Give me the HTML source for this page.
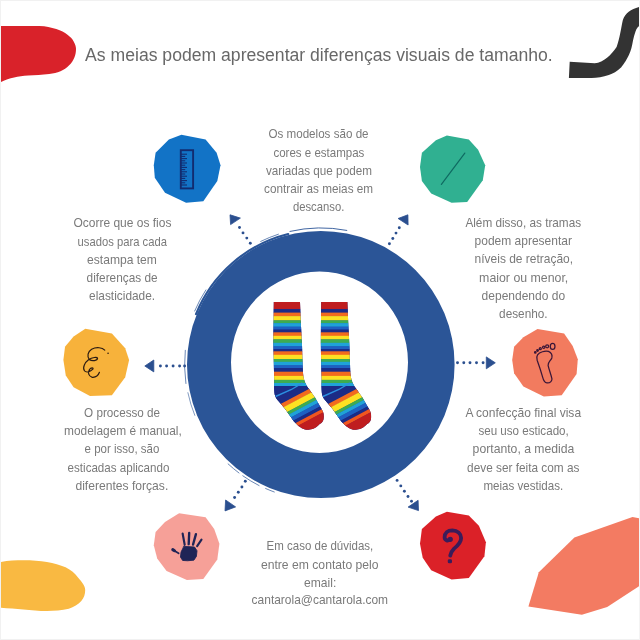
<!DOCTYPE html>
<html lang="pt"><head><meta charset="utf-8"><title>As meias podem apresentar diferenças visuais de tamanho</title>
<style>
html,body{margin:0;padding:0;background:#fff;}
body{width:640px;height:640px;overflow:hidden;position:relative;}
svg{position:absolute;left:0;top:0;display:block;will-change:transform;}
text{font-family:"Liberation Sans",sans-serif;fill:#7a7a7a;}
.t{font-size:17.5px;fill:#686868;}
.b{font-size:11.9px;}
</style></head><body>
<svg width="640" height="640" viewBox="0 0 640 640">
<rect width="640" height="640" fill="#fff"/>
<rect x="0" y="0" width="640" height="1" fill="#f1f1f1"/>
<rect x="0" y="0" width="1" height="640" fill="#f1f1f1"/>
<rect x="0" y="639" width="640" height="1" fill="#f1f1f1"/>
<rect x="639" y="0" width="1" height="640" fill="#f4f4f4"/>

<path d="M1,26 L39.4,26 C46,26.3 51,27.3 56.3,29.1 C61,30.8 64.5,32.5 67.5,34.7 C70.5,37 72.5,39 73.8,41.7 C75.3,44.5 76,46.5 76,48.8 C76,52 75.5,54.5 74.5,57.2 C73.2,60.5 71.5,63 68.9,65.6 C66.5,68 64,69.8 60.5,71.3 C57,72.8 53.5,73.6 49.2,74.1 C42,75 35,75.2 28.1,75.5 C23,75.8 18.5,76.5 14.1,77.6 C9.5,78.7 5.5,80 1,82 Z" fill="#d9222a"/>
<path d="M569.7,61.7 L594.7,63.3 C604,62 611,55 616.6,46.9 C620,38 621,28 622.8,20.3 C625,13 631,9 639,6.9 L639,26.3 C636,28 635,33 633,40.6 C632,46 631,51 629,54.7 C626,61 623,65 621.3,67.2 C617,71.5 613,73.5 608.8,75 C603,77 597,78 591.6,78.1 L568.9,78.1 Z" fill="#333"/>
<path d="M1,562 C8,560.6 16,560.3 23.4,560.3 C32,560.3 40,560.8 46.9,561.9 C54,563 60,564.8 65.6,567.3 C71,570 75,573.5 78,577.5 C82,582 85.2,586 85.2,590 C85.2,594 84,598 81.3,601 C78,604.5 74,607 68.8,608.8 C62,610.5 54,611 46.9,611 C39,611 31,610.3 23.4,609.5 C16,608.8 8,608.3 1,607.8 Z" fill="#f9b942"/>
<polygon points="632.5,516.9 639,518.3 639,586.3 607.2,606.9 581.9,614.8 528.4,606.5 538.8,572.2 574.4,537.5" fill="#f37b62"/>
<path fill="#2b5597" fill-rule="evenodd" d="M187,364.5 a133.8,133.6 0 1,0 267.6,0 a133.8,133.6 0 1,0 -267.6,0 Z M231,362.2 a88.5,90.7 0 1,1 177,0 a88.5,90.7 0 1,1 -177,0 Z"/>
<g fill="none" stroke="#2b5597" stroke-linecap="round">
<path d="M290.0,231.4 A136.6,136.6 0 0,1 346.8,230.4" stroke-width="0.9"/>
<path d="M196.0,314.1 A134.5,134.5 0 0,1 288.2,234.0" stroke-width="2.2"/>
<path d="M260.7,241.4 A137.0,137.0 0 0,1 278.4,234.2" stroke-width="0.7"/>
<path d="M194.7,311.0 A136.9,136.9 0 0,1 205.9,289.9" stroke-width="0.7"/>
<path d="M185.9,383.5 A136.2,136.2 0 0,1 185.3,350.3" stroke-width="0.7"/>
<path d="M194.8,415.4 A135.8,135.8 0 0,1 187.9,392.7" stroke-width="0.6"/>
<path d="M239.0,473.0 A135.9,135.9 0 0,1 228.1,463.9" stroke-width="0.7"/>
<path d="M259.1,485.6 A135.9,135.9 0 0,1 242.8,475.8" stroke-width="0.7"/>
<path d="M274.3,492.0 A135.7,135.7 0 0,1 265.6,488.5" stroke-width="0.7"/>
</g>
<g fill="#2b4f8f">
<polygon points="230,214.8 240.4,218.1 230.6,224.6" stroke="#2b4f8f" stroke-width="0.8" stroke-linejoin="round"/>
<circle cx="239.5" cy="227.5" r="1.45"/>
<circle cx="243" cy="232.9" r="1.45"/>
<circle cx="246.8" cy="238.1" r="1.45"/>
<circle cx="250.3" cy="243.3" r="1.45"/>
<polygon points="407.9,214.8 398.1,218.5 408.1,225" stroke="#2b4f8f" stroke-width="0.8" stroke-linejoin="round"/>
<circle cx="399.3" cy="227.8" r="1.45"/>
<circle cx="396" cy="233.1" r="1.45"/>
<circle cx="392.8" cy="238.5" r="1.45"/>
<circle cx="389.4" cy="243.8" r="1.45"/>
<polygon points="144.8,366 153.8,360 153.8,371.9" stroke="#2b4f8f" stroke-width="0.8" stroke-linejoin="round"/>
<circle cx="160.4" cy="366" r="1.45"/>
<circle cx="166.6" cy="366" r="1.45"/>
<circle cx="173.1" cy="366" r="1.45"/>
<circle cx="179.6" cy="366" r="1.45"/>
<circle cx="184.6" cy="366" r="1.45"/>
<polygon points="495.3,362.8 486.3,356.9 486.3,368.8" stroke="#2b4f8f" stroke-width="0.8" stroke-linejoin="round"/>
<circle cx="457.5" cy="362.8" r="1.45"/>
<circle cx="463.8" cy="362.8" r="1.45"/>
<circle cx="470" cy="362.8" r="1.45"/>
<circle cx="476.5" cy="362.8" r="1.45"/>
<circle cx="483.1" cy="362.8" r="1.45"/>
<polygon points="225,510.9 225.6,500 235.6,506.9" stroke="#2b4f8f" stroke-width="0.8" stroke-linejoin="round"/>
<circle cx="234.6" cy="497.5" r="1.45"/>
<circle cx="238.3" cy="492.3" r="1.45"/>
<circle cx="241.9" cy="487" r="1.45"/>
<circle cx="245.3" cy="481.3" r="1.45"/>
<polygon points="418.5,510.6 408.1,507.1 418.1,500.3" stroke="#2b4f8f" stroke-width="0.8" stroke-linejoin="round"/>
<circle cx="397.1" cy="480.4" r="1.45"/>
<circle cx="400.8" cy="485.9" r="1.45"/>
<circle cx="404.4" cy="491.3" r="1.45"/>
<circle cx="408" cy="496.5" r="1.45"/>
<circle cx="411.5" cy="501.3" r="1.45"/>
</g>
<polygon points="181.4,134.8 205.6,139.5 216.6,152.8 220.5,165.3 217.3,180.9 203.3,201.2 186.1,202.8 165.0,192.7 154.8,177.8 153.8,165.3 155.6,152.8 168.9,139.5" fill="#1273c6"/>
<polygon points="446.9,135.6 468.8,139.5 478.1,149.7 485.2,165.3 482.8,180.2 467.2,202.0 451.6,202.8 431.2,193.4 421.9,180.9 420.0,166.9 421.9,152.8 435.9,140.3" fill="#30b091"/>
<polygon points="85.3,328.8 111.9,333.4 125.2,348.3 129.1,360.0 125.2,377.2 111.9,395.2 90.0,395.9 73.6,387.3 65.8,375.6 63.4,360.0 65.0,346.7 73.6,336.6" fill="#f7b23b"/>
<polygon points="179.1,513.3 205.6,517.2 214.2,528.9 219.4,543.8 217.3,559.4 203.3,578.9 186.9,580.0 166.6,571.1 157.2,558.6 153.8,545.3 155.6,532.0 165.0,521.9" fill="#f6a098"/>
<polygon points="537.5,329.1 564.1,333.4 572.7,345.9 577.8,359.2 576.6,374.1 561.7,395.2 543.8,396.4 523.4,386.6 514.1,373.3 512.2,360.0 514.1,346.7 523.4,337.3" fill="#f27b5f"/>
<polygon points="446.9,511.7 468.8,515.6 478.9,525.8 485.9,542.2 484.4,556.2 468.8,578.1 451.6,579.4 431.2,570.3 422.7,557.8 420.0,543.8 421.9,528.9 435.9,516.4" fill="#db2128"/>
<g stroke="#122c70" fill="none">
<rect x="180.8" y="150.2" width="12.3" height="38.2" stroke-width="1.9"/>
<path d="M181,154.2 h6" stroke-width="1.1"/>
<path d="M181,156.4 h4.2" stroke-width="1.1"/>
<path d="M181,158.6 h6" stroke-width="1.1"/>
<path d="M181,160.8 h4.2" stroke-width="1.1"/>
<path d="M181,163.0 h6" stroke-width="1.1"/>
<path d="M181,165.2 h4.2" stroke-width="1.1"/>
<path d="M181,167.4 h6" stroke-width="1.1"/>
<path d="M181,169.6 h4.2" stroke-width="1.1"/>
<path d="M181,171.8 h6" stroke-width="1.1"/>
<path d="M181,174.0 h4.2" stroke-width="1.1"/>
<path d="M181,176.2 h6" stroke-width="1.1"/>
<path d="M181,178.4 h4.2" stroke-width="1.1"/>
<path d="M181,180.6 h6" stroke-width="1.1"/>
<path d="M181,182.8 h4.2" stroke-width="1.1"/>
<path d="M181,185.0 h6" stroke-width="1.1"/>
</g>
<path d="M464.8,153.1 L441.4,184.4" stroke="#0f6a62" stroke-width="1.2" stroke-linecap="round" fill="none"/>
<g transform="translate(76,342) scale(0.0625)"><path d="M460,130 C420,90 330,75 250,115 C190,150 170,230 215,285 C260,310 340,300 345,262 C340,235 260,245 200,285 C140,330 100,410 135,460 C160,495 230,480 270,435 C285,405 240,405 215,440 C185,490 200,545 260,565 C320,570 360,525 375,485" fill="none" stroke="#2a1a12" stroke-width="19" stroke-linecap="round"/><circle cx="513" cy="180" r="13" fill="#2a1a12"/></g>
<g transform="translate(167,527) scale(0.0625)" fill="#1f2456" stroke="#1f2456" stroke-linecap="round">
<polygon points="270,310 440,320 480,380 470,470 430,530 330,540 250,535 215,480 225,400 255,340" stroke-width="14" stroke-linejoin="round"/>
<path d="M283,285 L250,105" stroke-width="34" fill="none"/>
<path d="M347,275 L355,95" stroke-width="38" fill="none"/>
<path d="M417,280 L463,115" stroke-width="38" fill="none"/>
<path d="M482,305 L552,203" stroke-width="34" fill="none"/>
<path d="M185,420 L125,385" stroke-width="30" fill="none"/>
<path d="M120,380 L92,362" stroke-width="48" fill="none"/>
</g>
<g transform="translate(527,338) scale(0.078125)" fill="none" stroke="#3a1638" stroke-width="16" stroke-linejoin="round">
<path d="M135,215 C160,180 230,160 275,172 C315,190 325,225 318,255 C300,295 265,315 270,350 C280,400 305,460 320,525 C315,560 290,578 255,575 C225,570 210,540 200,500 C180,430 150,340 130,285 C120,255 122,235 135,215 Z"/>
<ellipse cx="328" cy="108" rx="30" ry="38"/>
<circle cx="258" cy="106" r="19"/>
<circle cx="214" cy="118" r="15" stroke-width="16"/>
<circle cx="170" cy="137" r="13" stroke-width="16"/>
<circle cx="135" cy="160" r="10" stroke-width="17"/>
<circle cx="106" cy="184" r="9" stroke-width="17"/>
</g>
<g transform="translate(433,524) scale(0.07031)" fill="none" stroke="#3b1c5a" stroke-linecap="round" stroke-linejoin="round">
<path d="M245,215 C215,250 165,235 165,190 C165,130 210,90 275,90 C350,92 400,140 400,200 C400,260 350,310 300,350 C265,385 250,415 245,450" stroke-width="54"/>
<circle cx="245" cy="218" r="26" fill="#3b1c5a" stroke-width="24"/>
<rect x="222" y="512" width="36" height="36" rx="8" fill="#3b1c5a" stroke-width="24"/>
</g>
<defs>
<clipPath id="sk"><path d="M273.8,302 L300,302 L300.8,322 L302,345 L302.8,370 C303.2,378 304.5,383 308.8,388.8 L315,397.5 L320,406.3 C322.5,410 324,413 323.8,416.5 C323.8,421 322,423 320,423.8 C317,427 315,428.3 312.5,428.9 C309,429.8 307,429.8 305,429.4 C302,428.5 300.5,427.5 298.8,426.3 L293.8,421.3 L285,408.8 L277.5,400 C275.5,397.5 274.6,395 274.4,392.5 C274,388 274,385 274.2,380 L273.3,342 Z"/></clipPath>
</defs>
<g clip-path="url(#sk)">
<rect x="270" y="300" width="60" height="135" fill="#1c2b86"/>
<rect x="270" y="302.0" width="40" height="7.4" fill="#bf1d1f"/>
<rect x="270" y="309.1" width="40" height="3.8" fill="#1c2b86"/>
<rect x="270" y="312.6" width="40" height="3.8" fill="#f26a1e"/>
<rect x="270" y="316.1" width="40" height="4.5" fill="#fde122"/>
<rect x="270" y="320.3" width="40" height="3.1" fill="#3dab52"/>
<rect x="270" y="323.1" width="40" height="3.8" fill="#1fa2d8"/>
<rect x="270" y="326.6" width="40" height="3.2" fill="#1e60c2"/>
<rect x="270" y="329.5" width="40" height="3.1" fill="#1c2b86"/>
<rect x="270" y="332.3" width="40" height="3.8" fill="#f26a1e"/>
<rect x="270" y="335.8" width="40" height="3.8" fill="#fde122"/>
<rect x="270" y="339.3" width="40" height="3.8" fill="#3dab52"/>
<rect x="270" y="342.8" width="40" height="3.8" fill="#1fa2d8"/>
<rect x="270" y="346.3" width="40" height="3.1" fill="#1e60c2"/>
<rect x="270" y="349.1" width="40" height="2.5" fill="#1c2b86"/>
<rect x="270" y="351.3" width="40" height="3.8" fill="#f26a1e"/>
<rect x="270" y="354.8" width="40" height="4.5" fill="#fde122"/>
<rect x="270" y="359.0" width="40" height="3.1" fill="#3dab52"/>
<rect x="270" y="361.8" width="40" height="3.8" fill="#1fa2d8"/>
<rect x="270" y="365.3" width="40" height="3.1" fill="#1e60c2"/>
<rect x="270" y="368.1" width="40" height="3.9" fill="#1c2b86"/>
<rect x="270" y="371.7" width="40" height="4.5" fill="#f26a1e"/>
<rect x="270" y="375.9" width="40" height="4.2" fill="#fde122"/>
<rect x="270" y="379.8" width="40" height="3.5" fill="#3dab52"/>
<rect x="270" y="383.0" width="40" height="3.3" fill="#1fa2d8"/>
<polygon points="270,386 312,386 312,400 290,440 270,440" fill="#1c2b86"/>
<path d="M275.5,396.5 L291.5,389.5 L302.5,382.8" stroke="#2b8fe0" stroke-width="1.4" fill="none"/>
<g transform="rotate(62)">
<rect x="488.5" y="-300" width="4.5" height="500" fill="#f26a1e"/>
<rect x="492.7" y="-300" width="6.1" height="500" fill="#fde122"/>
<rect x="498.5" y="-300" width="3.4" height="500" fill="#3dab52"/>
<rect x="501.6" y="-300" width="3.7" height="500" fill="#1fa2d8"/>
<rect x="505" y="-300" width="4.3" height="500" fill="#1e60c2"/>
<rect x="509" y="-300" width="3.6" height="500" fill="#1c2b86"/>
<rect x="512.3" y="-300" width="3.7" height="500" fill="#f1561e"/>
<rect x="515.7" y="-300" width="19.6" height="500" fill="#bf1d1f"/>
</g></g>
<g transform="translate(47.4,0)">
<g clip-path="url(#sk)">
<rect x="270" y="300" width="60" height="135" fill="#1c2b86"/>
<rect x="270" y="302.0" width="40" height="7.4" fill="#bf1d1f"/>
<rect x="270" y="309.1" width="40" height="3.8" fill="#1c2b86"/>
<rect x="270" y="312.6" width="40" height="3.8" fill="#f26a1e"/>
<rect x="270" y="316.1" width="40" height="4.5" fill="#fde122"/>
<rect x="270" y="320.3" width="40" height="3.1" fill="#3dab52"/>
<rect x="270" y="323.1" width="40" height="3.8" fill="#1fa2d8"/>
<rect x="270" y="326.6" width="40" height="3.2" fill="#1e60c2"/>
<rect x="270" y="329.5" width="40" height="3.1" fill="#1c2b86"/>
<rect x="270" y="332.3" width="40" height="3.8" fill="#f26a1e"/>
<rect x="270" y="335.8" width="40" height="3.8" fill="#fde122"/>
<rect x="270" y="339.3" width="40" height="3.8" fill="#3dab52"/>
<rect x="270" y="342.8" width="40" height="3.8" fill="#1fa2d8"/>
<rect x="270" y="346.3" width="40" height="3.1" fill="#1e60c2"/>
<rect x="270" y="349.1" width="40" height="2.5" fill="#1c2b86"/>
<rect x="270" y="351.3" width="40" height="3.8" fill="#f26a1e"/>
<rect x="270" y="354.8" width="40" height="4.5" fill="#fde122"/>
<rect x="270" y="359.0" width="40" height="3.1" fill="#3dab52"/>
<rect x="270" y="361.8" width="40" height="3.8" fill="#1fa2d8"/>
<rect x="270" y="365.3" width="40" height="3.1" fill="#1e60c2"/>
<rect x="270" y="368.1" width="40" height="3.9" fill="#1c2b86"/>
<rect x="270" y="371.7" width="40" height="4.5" fill="#f26a1e"/>
<rect x="270" y="375.9" width="40" height="4.2" fill="#fde122"/>
<rect x="270" y="379.8" width="40" height="3.5" fill="#3dab52"/>
<rect x="270" y="383.0" width="40" height="3.3" fill="#1fa2d8"/>
<polygon points="270,386 312,386 312,400 290,440 270,440" fill="#1c2b86"/>
<path d="M275.5,396.5 L291.5,389.5 L302.5,382.8" stroke="#2b8fe0" stroke-width="1.4" fill="none"/>
<g transform="rotate(62)">
<rect x="488.5" y="-300" width="4.5" height="500" fill="#f26a1e"/>
<rect x="492.7" y="-300" width="6.1" height="500" fill="#fde122"/>
<rect x="498.5" y="-300" width="3.4" height="500" fill="#3dab52"/>
<rect x="501.6" y="-300" width="3.7" height="500" fill="#1fa2d8"/>
<rect x="505" y="-300" width="4.3" height="500" fill="#1e60c2"/>
<rect x="509" y="-300" width="3.6" height="500" fill="#1c2b86"/>
<rect x="512.3" y="-300" width="3.7" height="500" fill="#f1561e"/>
<rect x="515.7" y="-300" width="19.6" height="500" fill="#bf1d1f"/>
</g></g>
</g>
<text class="t" x="85.10" y="60.5" textLength="467.60" lengthAdjust="spacingAndGlyphs">As meias podem apresentar diferenças visuais de tamanho.</text>
<text class="b" x="268.40" y="137.8" textLength="100.20" lengthAdjust="spacingAndGlyphs">Os modelos são de</text>
<text class="b" x="273.40" y="156.6" textLength="91.00" lengthAdjust="spacingAndGlyphs">cores e estampas</text>
<text class="b" x="265.90" y="174.8" textLength="106.00" lengthAdjust="spacingAndGlyphs">variadas que podem</text>
<text class="b" x="264.10" y="192.8" textLength="109.00" lengthAdjust="spacingAndGlyphs">contrair as meias em</text>
<text class="b" x="292.90" y="210.8" textLength="51.40" lengthAdjust="spacingAndGlyphs">descanso.</text>
<text class="b" x="73.40" y="227.3" textLength="98.00" lengthAdjust="spacingAndGlyphs">Ocorre que os fios</text>
<text class="b" x="77.60" y="245.8" textLength="89.30" lengthAdjust="spacingAndGlyphs">usados para cada</text>
<text class="b" x="87.10" y="264.1" textLength="69.80" lengthAdjust="spacingAndGlyphs">estampa tem</text>
<text class="b" x="86.60" y="282.3" textLength="71.00" lengthAdjust="spacingAndGlyphs">diferenças de</text>
<text class="b" x="89.10" y="300.3" textLength="66.00" lengthAdjust="spacingAndGlyphs">elasticidade.</text>
<text class="b" x="465.40" y="226.6" textLength="115.70" lengthAdjust="spacingAndGlyphs">Além disso, as tramas</text>
<text class="b" x="474.60" y="245.3" textLength="97.30" lengthAdjust="spacingAndGlyphs">podem apresentar</text>
<text class="b" x="474.60" y="263.3" textLength="98.50" lengthAdjust="spacingAndGlyphs">níveis de retração,</text>
<text class="b" x="479.10" y="281.8" textLength="89.20" lengthAdjust="spacingAndGlyphs">maior ou menor,</text>
<text class="b" x="481.60" y="299.8" textLength="83.50" lengthAdjust="spacingAndGlyphs">dependendo do</text>
<text class="b" x="499.10" y="318.3" textLength="48.50" lengthAdjust="spacingAndGlyphs">desenho.</text>
<text class="b" x="84.10" y="417.3" textLength="76.00" lengthAdjust="spacingAndGlyphs">O processo de</text>
<text class="b" x="64.10" y="435.3" textLength="117.70" lengthAdjust="spacingAndGlyphs">modelagem é manual,</text>
<text class="b" x="84.60" y="453.3" textLength="74.80" lengthAdjust="spacingAndGlyphs">e por isso, são</text>
<text class="b" x="67.60" y="471.6" textLength="101.80" lengthAdjust="spacingAndGlyphs">esticadas aplicando</text>
<text class="b" x="75.40" y="489.8" textLength="92.90" lengthAdjust="spacingAndGlyphs">diferentes forças.</text>
<text class="b" x="465.40" y="416.6" textLength="115.70" lengthAdjust="spacingAndGlyphs">A confecção final visa</text>
<text class="b" x="478.40" y="434.8" textLength="90.40" lengthAdjust="spacingAndGlyphs">seu uso esticado,</text>
<text class="b" x="472.60" y="453.3" textLength="101.80" lengthAdjust="spacingAndGlyphs">portanto, a medida</text>
<text class="b" x="467.10" y="471.6" textLength="112.30" lengthAdjust="spacingAndGlyphs">deve ser feita com as</text>
<text class="b" x="483.40" y="489.8" textLength="79.90" lengthAdjust="spacingAndGlyphs">meias vestidas.</text>
<text class="b" x="266.60" y="550.3" textLength="106.70" lengthAdjust="spacingAndGlyphs">Em caso de dúvidas,</text>
<text class="b" x="260.90" y="568.6" textLength="117.70" lengthAdjust="spacingAndGlyphs">entre em contato pelo</text>
<text class="b" x="304.10" y="586.6" textLength="32.20" lengthAdjust="spacingAndGlyphs">email:</text>
<text class="b" x="251.60" y="604.1" textLength="136.50" lengthAdjust="spacingAndGlyphs">cantarola@cantarola.com</text>
</svg></body></html>
